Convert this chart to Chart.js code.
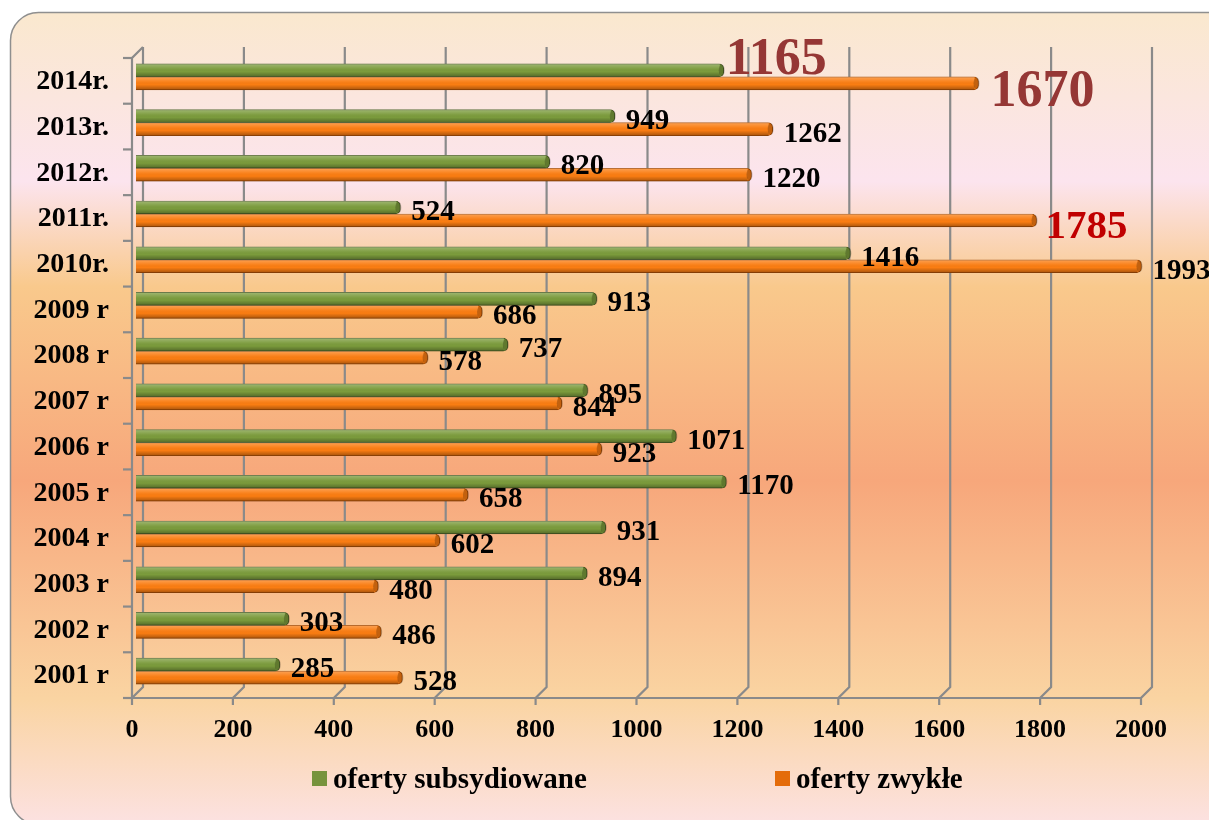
<!DOCTYPE html>
<html>
<head>
<meta charset="utf-8">
<script src="https://cdn.jsdelivr.net/npm/chart.js@4.4.1/dist/chart.umd.min.js"></script>
<style>
  html, body { margin: 0; padding: 0; background: #fff; }
  #chart { display: block; }
</style>
</head>
<body>
<canvas id="chart" width="1209" height="820"></canvas>
<script>
// categories, oldest first (drawn bottom to top)
const years = ['2001 r', '2002 r', '2003 r', '2004 r', '2005 r', '2006 r', '2007 r',
               '2008 r', '2009 r', '2010r.', '2011r.', '2012r.', '2013r.', '2014r.'];
const subsidized = [285, 303, 894, 931, 1170, 1071, 895, 737, 913, 1416, 524, 820, 949, 1165];
const regular = [528, 486, 480, 602, 658, 923, 844, 578, 686, 1993, 1785, 1220, 1262, 1670];
const seriesNames = ['oferty subsydiowane', 'oferty zwykłe'];
const xMin = 0, xMax = 2000, xStep = 200;

const SERIF = '"Liberation Serif", "Times New Roman", serif';
const GRID = '#8a8a8a';

// bigger coloured value labels, keyed "dataset:year"
const highlight = {
    '0:2014r.': { size: 52, color: '#953735', dx: 2, dy: -14 },
    '1:2014r.': { size: 52, color: '#953735', dx: 12, dy: 5 },
    '1:2011r.': { size: 41, color: '#C00000', dx: 9, dy: 4 }
};

const labelsTopDown = years.slice().reverse();

// page background: rounded frame with the soft vertical gradient
const backgroundPlugin = {
    id: 'frame',
    beforeDraw(chart) {
        const c = chart.ctx;
        c.save();
        c.fillStyle = '#ffffff';
        c.fillRect(0, 0, chart.width, chart.height);
        const g = c.createLinearGradient(0, 12, 0, 820);
        g.addColorStop(0.00, '#FAE8CE');
        g.addColorStop(0.21, '#FCE4EE');
        g.addColorStop(0.34, '#F9C98C');
        g.addColorStop(0.58, '#F7A77B');
        g.addColorStop(0.85, '#FAD4A2');
        g.addColorStop(1.00, '#FCE1DF');
        c.beginPath();
        c.roundRect(10.5, 12.5, 1230, 812, 28);
        c.fillStyle = g;
        c.fill();
        c.lineWidth = 1.5;
        c.strokeStyle = '#8f8f8f';
        c.stroke();
        c.restore();
    }
};

// pseudo-3D walls: back gridlines, front axis lines, tick marks
const wallPlugin = {
    id: 'walls',
    beforeDatasetsDraw(chart) {
        const c = chart.ctx;
        const xs = chart.scales.x;
        const a = chart.chartArea;
        const back = 7, front = 4;
        c.save();
        c.strokeStyle = GRID;
        c.lineWidth = 2.2;
        xs.ticks.forEach(t => {
            const p = xs.getPixelForValue(t.value);
            c.beginPath();
            c.moveTo(p + back, a.top - back);
            c.lineTo(p + back, a.bottom - back);
            c.lineTo(p - front, a.bottom + front);
            c.lineTo(p - front, a.bottom + front + 7);
            c.stroke();
        });
        // front floor edge
        c.beginPath();
        c.moveTo(a.left - front, a.bottom + front);
        c.lineTo(xs.getPixelForValue(xMax) - front, a.bottom + front);
        c.stroke();
        // front side wall edge + top corner
        c.beginPath();
        c.moveTo(a.left + back, a.top - back);
        c.lineTo(a.left - front, a.top + front);
        c.lineTo(a.left - front, a.bottom + front);
        c.stroke();
        // category tick marks
        const step = (a.bottom - a.top) / labelsTopDown.length;
        for (let k = 0; k <= labelsTopDown.length; k++) {
            const y = a.top + front + k * step;
            c.beginPath();
            c.moveTo(a.left - front, y);
            c.lineTo(a.left - front - 9, y);
            c.stroke();
        }
        c.restore();
    }
};

// cylinder-like shading on bars and value labels
const barLookPlugin = {
    id: 'barLook',
    afterDatasetsDraw(chart) {
        const c = chart.ctx;
        c.save();
        chart.data.datasets.forEach((ds, di) => {
            const meta = chart.getDatasetMeta(di);
            meta.data.forEach((el, i) => {
                const { x, y, base, height } = el.getProps(['x', 'y', 'base', 'height'], true);
                const top = y - height / 2;
                const g = c.createLinearGradient(0, top, 0, top + height);
                g.addColorStop(0, 'rgba(255,255,255,0.28)');
                g.addColorStop(0.35, 'rgba(255,255,255,0.06)');
                g.addColorStop(0.6, 'rgba(0,0,0,0)');
                g.addColorStop(1, 'rgba(0,0,0,0.32)');
                c.fillStyle = g;
                c.fillRect(base, top, Math.max(0, x - base - 4), height);
                // end cap
                c.beginPath();
                c.ellipse(x - 2, y, 3, height / 2 - 0.5, 0, 0, Math.PI * 2);
                c.fillStyle = 'rgba(0,0,0,0.22)';
                c.fill();
            });
        });
        // value labels
        chart.data.datasets.forEach((ds, di) => {
            const meta = chart.getDatasetMeta(di);
            meta.data.forEach((el, i) => {
                const { x, y } = el.getProps(['x', 'y'], true);
                const key = di + ':' + chart.data.labels[i];
                const h = highlight[key] || { size: 29, color: '#000000', dx: 11, dy: 3 };
                c.font = 'bold ' + h.size + 'px ' + SERIF;
                c.fillStyle = h.color;
                c.textAlign = 'left';
                c.textBaseline = 'alphabetic';
                c.fillText(String(ds.data[i]), x + h.dx, y + h.dy + 0.33 * h.size);
            });
        });
        c.restore();
    }
};

// legend drawn by hand so the gap between the two entries can be wide
const legendPlugin = {
    id: 'wideLegend',
    afterDraw(chart) {
        const c = chart.ctx;
        const spots = [312, 775];
        c.save();
        c.font = 'bold 29px ' + SERIF;
        c.textBaseline = 'alphabetic';
        c.textAlign = 'left';
        chart.data.datasets.forEach((ds, di) => {
            const x = spots[di];
            c.fillStyle = ds.legendColor;
            c.fillRect(x, 771, 15, 15);
            c.fillStyle = '#000';
            c.fillText(ds.label, x + 21, 788);
        });
        c.restore();
    }
};

const ctx = document.getElementById('chart').getContext('2d');
new Chart(ctx, {
    type: 'bar',
    data: {
        labels: labelsTopDown,
        datasets: [
            {
                label: seriesNames[0],
                data: subsidized.slice().reverse(),
                backgroundColor: '#7B9B3C',
                borderColor: '#4F6228',
                legendColor: '#77933C',
                borderWidth: 1,
                borderRadius: 5,
                borderSkipped: 'start',
                barThickness: 13
            },
            {
                label: seriesNames[1],
                data: regular.slice().reverse(),
                backgroundColor: '#FA7D12',
                borderColor: '#A94E06',
                legendColor: '#E46C0A',
                borderWidth: 1,
                borderRadius: 5,
                borderSkipped: 'start',
                barThickness: 13
            }
        ]
    },
    options: {
        indexAxis: 'y',
        responsive: false,
        animation: false,
        layout: { padding: { top: 54, right: 64, left: 0, bottom: 0 } },
        scales: {
            x: {
                min: xMin,
                max: xMax,
                ticks: {
                    stepSize: xStep,
                    labelOffset: -4,
                    padding: 21,
                    color: '#000',
                    font: { family: SERIF, size: 26, weight: 'bold' },
                    callback: v => String(v)
                },
                grid: { display: false, drawTicks: false },
                border: { display: false },
                afterFit(s) { s.height = 126; }
            },
            y: {
                ticks: {
                    padding: 27,
                    labelOffset: 5,
                    color: '#000',
                    font: { family: SERIF, size: 28, weight: 'bold' }
                },
                grid: { display: false, drawTicks: false },
                border: { display: false },
                afterFit(s) { s.width = 136; }
            }
        },
        plugins: {
            legend: { display: false },
            tooltip: { enabled: false }
        }
    },
    plugins: [backgroundPlugin, wallPlugin, barLookPlugin, legendPlugin]
});
</script>
</body>
</html>
